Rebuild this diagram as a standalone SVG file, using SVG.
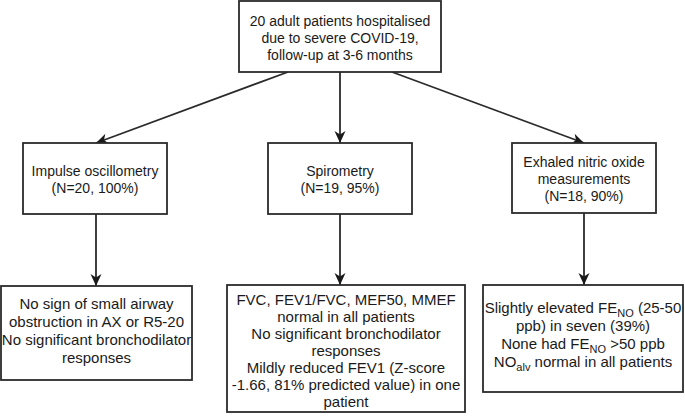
<svg xmlns="http://www.w3.org/2000/svg" width="685" height="417" viewBox="0 0 685 417">
<defs>
<style>
rect.box{fill:#fff;stroke:#2b2b2b;stroke-width:1.8}
text{font-family:"Liberation Sans",Arial,sans-serif;font-size:14px;fill:#1a1a1a;text-anchor:middle}
.big{font-size:15px}
.sub{font-size:11px}
line.c{stroke:#2b2b2b;stroke-width:1.8;marker-end:url(#ah)}
</style>
<marker id="ah" markerUnits="userSpaceOnUse" markerWidth="13" markerHeight="13" viewBox="0 0 13 13" refX="12" refY="6.5" orient="auto">
<path d="M0,1 L12,6.5 L0,12 L3.5,6.5 z" fill="#1a1a1a"/>
</marker>
</defs>
<rect width="685" height="417" fill="#fff"/>
<g id="connectors">
<line class="c" x1="288" y1="72" x2="96" y2="143"/>
<line class="c" x1="340" y1="72" x2="340" y2="143"/>
<line class="c" x1="392" y1="72" x2="584" y2="143"/>
<line class="c" x1="96" y1="214" x2="96" y2="286"/>
<line class="c" x1="340" y1="214" x2="340" y2="285"/>
<line class="c" x1="584" y1="213" x2="584" y2="285"/>
</g>
<g id="top">
<rect class="box" x="239" y="1" width="202" height="71"/>
<text x="340" y="26">20 adult patients hospitalised</text>
<text x="340" y="43">due to severe COVID-19,</text>
<text x="340" y="60">follow-up at 3-6 months</text>
</g>
<g id="ios">
<rect class="box" x="23" y="143" width="144" height="71"/>
<text x="95" y="176">Impulse oscillometry</text>
<text x="95" y="193">(N=20, 100%)</text>
</g>
<g id="spiro">
<rect class="box" x="268" y="143" width="144" height="71"/>
<text x="340" y="176">Spirometry</text>
<text x="340" y="193">(N=19, 95%)</text>
</g>
<g id="feno">
<rect class="box" x="512" y="143" width="144" height="70"/>
<text x="584" y="167">Exhaled nitric oxide</text>
<text x="584" y="184">measurements</text>
<text x="584" y="201">(N=18, 90%)</text>
</g>
<g id="ios-result" class="big">
<rect class="box" x="1" y="286" width="191" height="94"/>
<text class="big" x="96.5" y="309">No sign of small airway</text>
<text class="big" x="96.5" y="327">obstruction in AX or R5-20</text>
<text class="big" x="96.5" y="345">No significant bronchodilator</text>
<text class="big" x="96.5" y="363">responses</text>
</g>
<g id="spiro-result">
<rect class="box" x="227" y="285" width="238" height="127"/>
<text class="big" x="346" y="305">FVC, FEV1/FVC, MEF50, MMEF</text>
<text class="big" x="346" y="322">normal in all patients</text>
<text class="big" x="346" y="339">No significant bronchodilator</text>
<text class="big" x="346" y="356">responses</text>
<text class="big" x="346" y="373">Mildly reduced FEV1 (Z-score</text>
<text class="big" x="346" y="390">-1.66, 81% predicted value) in one</text>
<text class="big" x="346" y="407">patient</text>
</g>
<g id="feno-result">
<rect class="box" x="483" y="285" width="200" height="107"/>
<text class="big" x="583" y="313">Slightly elevated FE<tspan class="sub" dy="3.5">NO</tspan><tspan dy="-3.5"> (25-50</tspan></text>
<text class="big" x="583" y="331">ppb) in seven (39%)</text>
<text class="big" x="583" y="349">None had FE<tspan class="sub" dy="3.5">NO</tspan><tspan dy="-3.5"> &gt;50 ppb</tspan></text>
<text class="big" x="583" y="367">NO<tspan class="sub" dy="3.5">alv</tspan><tspan dy="-3.5"> normal in all patients</tspan></text>
</g>
</svg>
